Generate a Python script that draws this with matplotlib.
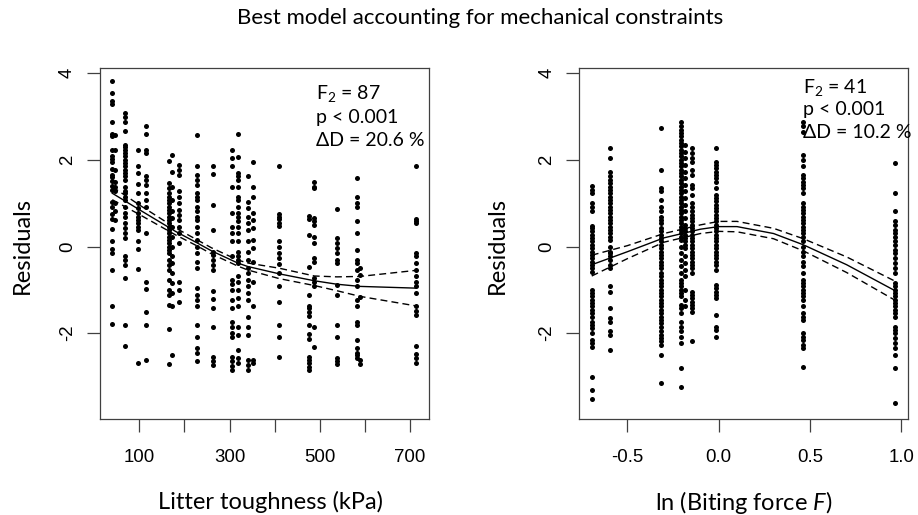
import numpy as np
import matplotlib.pyplot as plt

plt.rcParams['font.family'] = ['Lato', 'DejaVu Sans']
plt.rcParams['mathtext.fontset'] = 'custom'
plt.rcParams['mathtext.rm'] = 'Lato'
plt.rcParams['mathtext.it'] = 'Lato:italic'

# --- Left panel: residuals vs litter toughness (kPa), one list per toughness level
tough_levels = [40, 46, 68, 98, 114, 166, 173, 189, 227, 264, 305, 318, 340, 353,
                410, 477, 488, 538, 583, 589, 713]
tough_res = [
    [3.82, 3.54, 3.35, 3.29, 2.88, 2.6, 2.55, 2.23, 2.08, 2.02, 1.96, 1.78, 1.65, 1.6,
     1.52, 1.4, 1.31, 1.02, 0.92, 0.75, 0.63, 0.4, 0.12, -0.06, -0.14, -0.54, -1.38, -1.79],
    [2.58, 2.22, 1.77, 1.5, 1.38, 1.27, 1.0, 0.81, 0.62],
    [3.08, 3.0, 2.88, 2.67, 2.35, 2.29, 2.23, 2.15, 2.08, 2.0, 1.92, 1.85, 1.77, 1.69,
     1.62, 1.54, 1.38, 1.27, 1.23, 1.15, 1.08, 0.92, 0.77, 0.69, 0.54, 0.42, 0.31, 0.19,
     -0.23, -0.31, -0.42, -0.73, -1.81, -2.29],
    [2.23, 1.85, 1.69, 1.45, 1.23, 1.0, 0.88, 0.77, 0.69, 0.62, 0.54, 0.46, 0.38, 0.12,
     -0.06, -0.52, -2.69],
    [2.77, 2.6, 2.23, 2.15, 1.63, 1.54, 1.42, 1.23, 1.08, 0.92, 0.31, -0.81, -0.98,
     -1.52, -1.81, -2.62],
    [1.98, 1.46, 1.35, 1.23, 1.15, 1.08, 1.0, 0.92, 0.85, 0.77, 0.69, 0.62, 0.54, 0.46,
     0.38, 0.31, 0.23, 0.15, 0.08, 0.0, -0.08, -0.15, -0.31, -0.42, -0.55, -0.77, -1.0,
     -1.12, -1.35, -1.91, -2.71],
    [2.12, 1.73, 1.38, 1.08, 0.81, 0.65, 0.46, 0.23, 0.0, -0.23, -0.38, -0.62, -0.85,
     -1.08, -1.38, -2.5],
    [1.88, 1.77, 1.65, 1.27, 1.15, 1.0, 0.85, 0.73, 0.62, 0.46, 0.31, 0.08, -0.81, -1.0,
     -1.27],
    [2.58, 1.85, 1.65, 1.54, 1.42, 1.23, 1.15, 1.08, 0.92, 0.81, 0.69, 0.62, 0.46, 0.31,
     0.15, 0.0, -0.15, -0.35, -0.5, -0.96, -1.12, -1.23, -1.38, -1.81, -2.08, -2.35,
     -2.46, -2.64],
    [1.85, 1.68, 0.95, 0.38, -0.12, -0.19, -0.31, -0.42, -0.54, -1.02, -1.22, -1.41,
     -1.85, -2.54, -2.65, -2.73],
    [2.22, 2.04, 1.86, 1.38, 0.77, 0.46, 0.31, 0.12, -0.23, -0.77, -0.86, -1.0, -1.23,
     -1.42, -1.73, -1.85, -2.0, -2.08, -2.54, -2.65, -2.75, -2.85],
    [2.6, 2.06, 1.69, 1.62, 1.54, 1.38, 1.15, 1.08, 0.92, 0.77, 0.69, 0.58, 0.46, 0.31,
     0.12, -0.12, -0.23, -0.31, -0.38, -0.69, -0.81, -1.0, -1.19, -1.37, -1.85, -2.04,
     -2.38, -2.58, -2.69],
    [1.62, 1.02, 0.88, 0.69, 0.54, 0.38, 0.12, -0.12, -0.31, -0.5, -0.62, -0.77, -0.92,
     -1.08, -1.23, -1.62, -1.85, -2.04, -2.62, -2.73, -2.85],
    [1.94, 1.38, 1.15, 0.77, 0.62, 0.42, 0.15, -0.04, -0.35, -0.81, -1.38, -2.62, -2.69],
    [1.85, 0.75, 0.69, 0.63, 0.55, 0.48, 0.12, -0.02, -0.14, -0.27, -0.4, -0.62, -0.92,
     -1.27, -1.81, -2.08, -2.54],
    [0.71, 0.63, 0.27, -0.48, -1.12, -1.38, -1.42, -1.5, -1.6, -1.81, -2.02, -2.14,
     -2.54, -2.62, -2.69, -2.77, -2.86],
    [1.5, 1.38, 1.35, 0.65, 0.58, 0.5, 0.23, 0.08, -0.27, -0.35, -0.73, -0.81, -0.92,
     -1.85, -2.31],
    [0.86, 0.19, 0.08, -0.04, -0.15, -0.31, -0.37, -0.88, -1.12, -1.81, -2.08, -2.58,
     -2.65, -2.71],
    [1.58, 1.14, 1.0, 0.92, 0.58, 0.32, -0.08, -0.31, -0.38, -0.54, -0.77, -0.92, -1.23,
     -1.38, -1.73, -1.81, -2.15, -2.35, -2.46, -2.5, -2.58],
    [-0.5, -0.65, -1.17, -2.62, -2.71],
    [1.85, 0.63, 0.58, 0.54, -0.14, -0.23, -0.38, -0.55, -0.69, -0.81, -0.92, -1.08,
     -1.38, -1.48, -1.58, -2.29, -2.48, -2.58, -2.69],
]
tough_fit_x = [40, 100, 180, 227, 260, 318, 340, 410, 488, 538, 589, 713]
tough_fit = [1.23, 0.85, 0.35, 0.09, -0.1, -0.38, -0.46, -0.63, -0.79, -0.87, -0.92, -0.96]
tough_upper = [1.38, 0.96, 0.43, 0.16, -0.03, -0.31, -0.38, -0.5, -0.68, -0.7, -0.69, -0.55]
tough_lower = [1.08, 0.74, 0.27, 0.02, -0.17, -0.45, -0.54, -0.74, -0.9, -1.02, -1.15, -1.37]

# --- Right panel: residuals vs ln(biting force)
force_levels = [-0.695, -0.595, -0.316, -0.205, -0.185, -0.144, -0.016, 0.463, 0.965]
force_res = [
    [1.4, 1.31, 1.23, 1.0, 0.92, 0.81, 0.48, 0.42, 0.35, 0.27, 0.19, 0.12, 0.04, -0.04,
     -0.12, -0.19, -0.27, -0.35, -0.42, -0.5, -0.58, -1.0, -1.08, -1.15, -1.23, -1.31,
     -1.38, -1.46, -1.54, -1.62, -1.73, -1.81, -1.88, -2.0, -2.15, -2.23, -2.31, -3.0,
     -3.31, -3.52],
    [2.27, 2.04, 1.73, 1.62, 1.54, 1.46, 1.38, 1.31, 1.23, 1.15, 1.08, 1.0, 0.92, 0.85,
     0.77, 0.69, 0.62, 0.54, 0.46, 0.38, 0.31, 0.23, 0.15, 0.0, -0.12, -0.15, -0.23,
     -0.31, -0.42, -0.5, -0.92, -1.04, -1.42, -1.65, -1.73, -1.96, -2.04, -2.38],
    [2.73, 1.77, 1.35, 1.27, 1.08, 0.92, 0.81, 0.69, 0.62, 0.54, 0.42, 0.35, 0.27, 0.19,
     0.12, 0.04, -0.04, -0.12, -0.19, -0.27, -0.35, -0.42, -0.5, -0.62, -0.69, -0.77,
     -0.85, -0.92, -1.0, -1.08, -1.15, -1.23, -1.31, -1.38, -1.46, -1.54, -1.62, -1.69,
     -1.77, -1.85, -1.96, -2.04, -2.12, -2.19, -2.27, -2.5, -3.15],
    [2.88, 2.77, 2.69, 2.62, 2.54, 2.46, 2.38, 2.31, 2.23, 2.15, 2.08, 2.0, 1.92, 1.85,
     1.77, 1.69, 1.62, 1.54, 1.46, 1.38, 1.31, 1.23, 1.15, 1.08, 1.0, 0.92, 0.85, 0.77,
     0.69, 0.62, 0.54, 0.46, 0.38, 0.31, 0.23, 0.15, 0.0, -0.15, -0.31, -0.46, -0.62,
     -0.77, -0.85, -0.92, -1.0, -1.08, -1.15, -1.35, -1.42, -1.54, -1.73, -1.85, -1.96,
     -2.08, -2.22, -2.81, -3.23],
    [2.35, 2.19, 2.04, 1.88, 1.73, 1.58, 1.42, 1.27, 1.12, 0.96, 0.81, 0.65, 0.5, 0.42,
     0.35, 0.27, 0.19, 0.12, 0.04, -0.04, -0.23, -0.38, -0.54, -0.69, -1.0, -1.23, -1.38],
    [2.27, 2.15, 2.04, 1.96, 1.77, 1.65, 1.42, 1.35, 1.19, 1.0, 0.92, 0.81, 0.73, 0.65,
     0.58, 0.5, 0.42, 0.35, 0.27, 0.19, 0.12, 0.04, -0.04, -0.12, -0.19, -0.27, -0.35,
     -0.42, -0.5, -0.62, -1.04, -1.12, -1.19, -1.27, -1.35, -1.42, -1.5, -2.19],
    [2.27, 1.96, 1.88, 1.81, 1.73, 1.65, 1.58, 1.5, 1.35, 1.19, 1.12, 1.04, 0.96, 0.88,
     0.81, 0.73, 0.65, 0.58, 0.5, 0.42, 0.35, 0.27, 0.19, 0.12, 0.04, -0.04, -0.12, -0.19,
     -0.27, -0.35, -0.42, -0.54, -0.88, -0.96, -1.04, -1.12, -1.19, -1.58, -1.85, -1.92,
     -2.08],
    [2.88, 2.77, 2.65, 2.12, 2.0, 1.85, 1.65, 1.58, 1.5, 1.42, 1.35, 1.23, 1.0, 0.92,
     0.85, 0.77, 0.69, 0.62, 0.54, 0.46, 0.38, 0.31, 0.23, 0.12, 0.0, -0.12, -0.23, -0.35,
     -0.46, -0.62, -0.77, -0.85, -0.92, -1.0, -1.08, -1.15, -1.23, -1.38, -1.54, -1.62,
     -1.69, -2.0, -2.08, -2.15, -2.27, -2.35, -2.77],
    [1.92, 1.23, 0.81, 0.58, 0.5, 0.38, 0.31, 0.23, 0.12, 0.04, -0.08, -0.15, -0.27,
     -0.38, -0.5, -0.62, -0.85, -0.92, -1.0, -1.08, -1.15, -1.23, -1.31, -1.38, -1.46,
     -1.54, -1.62, -1.85, -1.92, -2.0, -2.12, -2.23, -2.35, -2.5, -2.81, -3.62],
]
force_fit_x = [-0.695, -0.5, -0.3, -0.1, 0.0, 0.1, 0.3, 0.463, 0.7, 0.965]
force_fit = [-0.42, -0.12, 0.2, 0.4, 0.46, 0.46, 0.3, 0.04, -0.42, -1.02]
force_upper = [-0.2, 0.02, 0.3, 0.5, 0.58, 0.58, 0.42, 0.18, -0.24, -0.8]
force_lower = [-0.68, -0.28, 0.1, 0.3, 0.35, 0.34, 0.18, -0.1, -0.6, -1.24]

W, H = 918, 515
fig = plt.figure(figsize=(W / 100, H / 100), dpi=100)
ax1 = fig.add_axes([100 / W, 1 - 419 / H, 329 / W, 351 / H])
ax2 = fig.add_axes([579.3 / W, 1 - 419 / H, 328.4 / W, 351 / H])

tick_font = dict(family='Liberation Sans', size=13.4)


def draw_panel(ax, levels, res, fx, fit, up, lo, xlim, xticks, xticklabels):
    for x, ys in zip(levels, res):
        ax.scatter([x] * len(ys), ys, s=13, color='black', linewidths=0, zorder=3)
    ax.plot(fx, fit, color='black', lw=1.0, zorder=4)
    ax.plot(fx, up, color='black', lw=1.0, ls=(0, (5, 3)), zorder=4)
    ax.plot(fx, lo, color='black', lw=1.0, ls=(0, (5, 3)), zorder=4)
    ax.set_xlim(xlim)
    ax.set_ylim(-3.98, 4.12)
    ax.set_xticks(xticks)
    ax.set_xticklabels(xticklabels, fontdict=tick_font)
    ax.set_yticks([-2, 0, 2, 4])
    ax.set_yticklabels(['-2', '0', '2', '4'], fontdict=tick_font, rotation=90, va='center')
    ax.tick_params(axis='x', length=9.4, width=0.9, color='#404040', pad=12)
    ax.tick_params(axis='y', length=9.4, width=0.9, color='#404040', pad=8)
    for sp in ax.spines.values():
        sp.set_color('#404040')
        sp.set_linewidth(0.9)


draw_panel(ax1, tough_levels, tough_res, tough_fit_x, tough_fit, tough_upper, tough_lower,
           (12.8, 742), [100, 200, 300, 400, 500, 600, 700],
           ['100', '', '300', '', '500', '', '700'])
draw_panel(ax2, force_levels, force_res, force_fit_x, force_fit, force_upper, force_lower,
           (-0.763, 1.034), [-0.5, 0.0, 0.5, 1.0], ['-0.5', '0.0', '0.5', '1.0'])

ax1.text(316 / W, 1 - 93 / H, r'F$_\mathregular{2}$ = 87', transform=fig.transFigure,
         fontsize=14, va='center')
ax1.text(316 / W, 1 - 117 / H, 'p < 0.001', transform=fig.transFigure, fontsize=14, va='center')
ax1.text(316 / W, 1 - 140 / H, 'ΔD = 20.6 %', transform=fig.transFigure, fontsize=14, va='center')
ax2.text(803 / W, 1 - 87 / H, r'F$_\mathregular{2}$ = 41', transform=fig.transFigure,
         fontsize=14, va='center')
ax2.text(803 / W, 1 - 109 / H, 'p < 0.001', transform=fig.transFigure, fontsize=14, va='center')
ax2.text(803 / W, 1 - 132 / H, 'ΔD = 10.2 %', transform=fig.transFigure, fontsize=14, va='center')

fig.text(480.5 / W, 1 - 18 / H, 'Best model accounting for mechanical constraints',
         ha='center', va='center', fontsize=16)
fig.text(270 / W, 1 - 502 / H, 'Litter toughness (kPa)', ha='center', va='center', fontsize=17)
fig.text(743.5 / W, 1 - 502 / H, r'ln (Biting force $\mathit{F}$)', ha='center', va='center',
         fontsize=17)
fig.text(22 / W, 1 - 245 / H, 'Residuals', rotation=90, ha='center', va='center', fontsize=17)
fig.text(497 / W, 1 - 245 / H, 'Residuals', rotation=90, ha='center', va='center', fontsize=17)

fig.savefig('out.png', dpi=100)
